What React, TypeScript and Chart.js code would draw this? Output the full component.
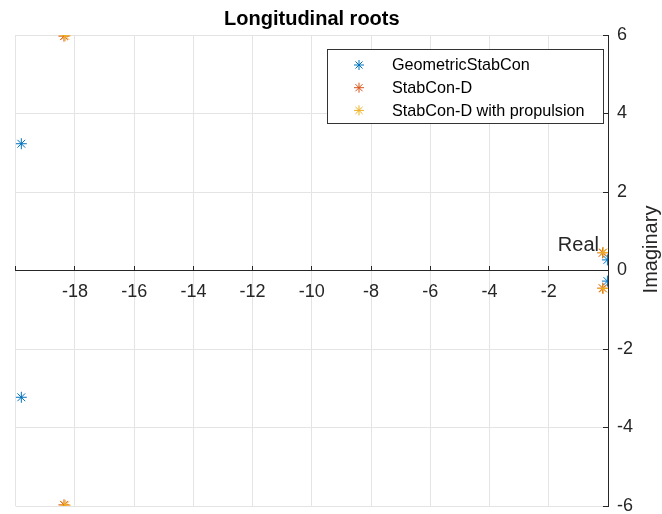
import React, { useEffect, useRef } from "react";
import { Chart, registerables } from "chart.js";

Chart.register(...registerables);

const seriesNames = ["GeometricStabCon", "StabCon-D", "StabCon-D with propulsion"];
const seriesColors = ["#0072BD", "#D95319", "#EDB120"];
const seriesDrawOrder = [0, 2, 1];

const geometricReal = [-19.81, -19.81, -0.02, -0.02];
const geometricImag = [3.23, -3.23, 0.27, -0.27];

const stabConReal = [-18.37, -18.37, -0.18, -0.18];
const stabConImag = [5.97, -5.97, 0.45, -0.45];

const propulsionReal = [-18.33, -18.33, -0.16, -0.16];
const propulsionImag = [5.98, -5.98, 0.46, -0.46];

const xTicks = [-20, -18, -16, -14, -12, -10, -8, -6, -4, -2, 0];
const yTicks = [-6, -4, -2, 0, 2, 4, 6];

const titleText = "Longitudinal roots";
const xLabel = "Real";
const yLabel = "Imaginary";

const FONT = "'Liberation Sans', Arial, Helvetica, sans-serif";
const AXIS = "#262626";
const GRID = "#e4e4e4";

function toPoints(xs: number[], ys: number[]) {
  return xs.map((x, i) => ({ x, y: ys[i] }));
}

function asterisk(ctx: CanvasRenderingContext2D, x: number, y: number, r: number, color: string) {
  ctx.save();
  ctx.strokeStyle = color;
  ctx.lineWidth = 1;
  ctx.beginPath();
  for (let k = 0; k < 4; k++) {
    const a = (k * Math.PI) / 4;
    ctx.moveTo(x - Math.cos(a) * r, y - Math.sin(a) * r);
    ctx.lineTo(x + Math.cos(a) * r, y + Math.sin(a) * r);
  }
  ctx.stroke();
  ctx.restore();
}

const overlayPlugin = {
  id: "overlay",
  afterDraw(chart: any) {
    const ctx: CanvasRenderingContext2D = chart.ctx;
    const xs = chart.scales.x;
    const ys = chart.scales.y;
    const zeroY = ys.getPixelForValue(0);

    // axis labels
    ctx.save();
    ctx.fillStyle = AXIS;
    ctx.font = `20px ${FONT}`;
    ctx.textAlign = "right";
    ctx.textBaseline = "alphabetic";
    ctx.fillText(xLabel, xs.right - 9, zeroY - 20);

    ctx.translate(xs.right + 49, zeroY - 21);
    ctx.rotate(-Math.PI / 2);
    ctx.textAlign = "center";
    ctx.fillText(yLabel, 0, 0);
    ctx.restore();

    // legend
    const lx = 327, ly = 49, lw = 276, lh = 74;
    ctx.save();
    ctx.fillStyle = "#ffffff";
    ctx.fillRect(lx, ly, lw, lh);
    ctx.strokeStyle = "#333333";
    ctx.lineWidth = 1;
    ctx.strokeRect(lx + 0.5, ly + 0.5, lw, lh);
    ctx.font = `16.2px ${FONT}`;
    ctx.fillStyle = "#000000";
    ctx.textAlign = "left";
    ctx.textBaseline = "middle";
    chart.data.datasets.forEach((ds: any, i: number) => {
      const cy = ly + 16 + i * 22.7;
      asterisk(ctx, lx + 32, cy, 5, ds.borderColor);
      ctx.fillText(ds.label, lx + 65, cy + 1);
    });
    ctx.restore();
  },
};

export default function App() {
  const ref = useRef<HTMLCanvasElement | null>(null);

  useEffect(() => {
    if (!ref.current) return;
    const dataSets = [
      toPoints(geometricReal, geometricImag),
      toPoints(stabConReal, stabConImag),
      toPoints(propulsionReal, propulsionImag),
    ];
    const chart = new Chart(ref.current, {
      type: "scatter",
      data: {
        datasets: dataSets.map((d, i) => ({
          label: seriesNames[i],
          data: d,
          order: seriesDrawOrder[i],
          borderColor: seriesColors[i],
          backgroundColor: seriesColors[i],
          pointStyle: "star",
          pointRadius: 5.5,
          pointHoverRadius: 5.5,
          borderWidth: 1,
        })),
      },
      options: {
        animation: false,
        responsive: true,
        maintainAspectRatio: false,
        events: [],
        layout: { padding: { left: 12, right: 0, top: 0, bottom: 8 } },
        plugins: {
          legend: { display: false },
          tooltip: { enabled: false },
          title: {
            display: true,
            text: titleText,
            fullSize: false,
            color: "#000000",
            font: { family: FONT, size: 20, weight: "bold" },
            padding: { top: 7, bottom: 4 },
          },
        },
        scales: {
          x: {
            type: "linear",
            position: { y: 0 } as any,
            min: -20,
            max: 0,
            afterBuildTicks: (s: any) => {
              s.ticks = xTicks.map((v) => ({ value: v }));
            },
            ticks: {
              color: AXIS,
              font: { family: FONT, size: 18 },
              padding: 15.7,
              maxRotation: 0,
              autoSkip: false,
              callback: (v: any) => (v === xTicks[0] || v === 0 ? "" : String(v)),
            },
            grid: { color: GRID, tickColor: AXIS, tickLength: -5, lineWidth: 1 },
            border: { display: true, color: AXIS, width: 1 },
          },
          y: {
            type: "linear",
            position: "right",
            min: -6,
            max: 6,
            afterBuildTicks: (s: any) => {
              s.ticks = yTicks.map((v) => ({ value: v }));
            },
            afterFit: (s: any) => {
              s.width = 54;
              s.paddingTop = 0;
              s.paddingBottom = 0;
            },
            ticks: {
              color: AXIS,
              font: { family: FONT, size: 18 },
              padding: 14,
              autoSkip: false,
              callback: (v: any) => String(v),
            },
            grid: { color: GRID, tickColor: AXIS, tickLength: -5, lineWidth: 1 },
            border: { display: true, color: AXIS, width: 1 },
          },
        },
      },
      plugins: [overlayPlugin],
    });
    return () => chart.destroy();
  }, []);

  return (
    <div style={{ position: "fixed", left: 0, top: 0, width: 662, height: 514, background: "#ffffff" }}>
      <canvas ref={ref} />
    </div>
  );
}
